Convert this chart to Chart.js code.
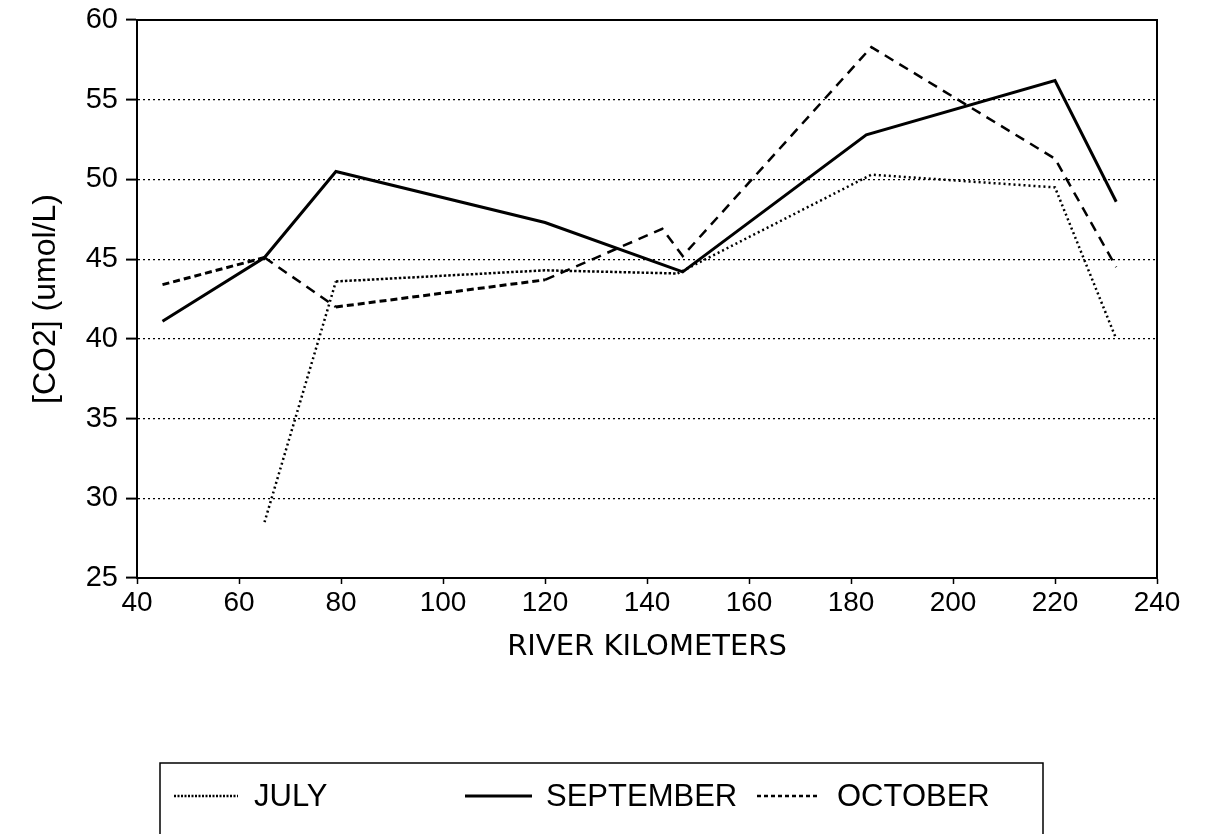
<!DOCTYPE html>
<html>
<head>
<meta charset="utf-8">
<script src="https://cdn.jsdelivr.net/npm/chart.js@4/dist/chart.umd.min.js"></script>
<style>
  html, body { margin: 0; padding: 0; background: #fff; }
  #wrap { width: 1213px; height: 834px; }
</style>
</head>
<body>
<div id="wrap"><canvas id="c" width="1213" height="834"></canvas></div>
<script>
// ---- data ----
const julyKm   = [65, 79, 120, 146, 184, 220, 232];
const julyCO2  = [28.5, 43.6, 44.3, 44.1, 50.3, 49.5, 40.0];
const sepKm    = [45, 65, 79, 120, 147, 183, 220, 232];
const sepCO2   = [41.1, 45.1, 50.5, 47.3, 44.2, 52.8, 56.2, 48.6];
const octKm    = [45, 65, 79, 120, 143, 147, 184, 220, 232];
const octCO2   = [43.4, 45.1, 42.0, 43.7, 46.9, 45.2, 58.3, 51.3, 44.5];
const xTicks   = [40, 60, 80, 100, 120, 140, 160, 180, 200, 220, 240];
const yTicks   = [25, 30, 35, 40, 45, 50, 55, 60];
const seriesNames = ['JULY', 'SEPTEMBER', 'OCTOBER'];

const pts = (xs, ys) => xs.map((x, i) => ({x: x, y: ys[i]}));
const FONT = "'Liberation Sans', Arial, sans-serif";

const frameAndLegend = {
  id: 'frameAndLegend',
  afterDraw(chart) {
    const ctx = chart.ctx;
    const a = chart.chartArea;
    ctx.save();
    ctx.strokeStyle = '#000';
    ctx.lineWidth = 2;
    ctx.setLineDash([]);
    ctx.beginPath();
    ctx.moveTo(a.left, a.top);
    ctx.lineTo(a.right, a.top);
    ctx.lineTo(a.right, a.bottom);
    ctx.stroke();
    // legend box
    ctx.lineWidth = 1.5;
    ctx.beginPath();
    ctx.moveTo(160, 840);
    ctx.lineTo(160, 763);
    ctx.lineTo(1043, 763);
    ctx.lineTo(1043, 840);
    ctx.stroke();
    // legend items
    const items = [
      {ds: 0, x1: 174, x2: 238, tx: 254},
      {ds: 1, x1: 465, x2: 532, tx: 546},
      {ds: 2, x1: 757, x2: 818, tx: 837}
    ];
    const ly = 796;
    items.forEach(it => {
      const d = chart.data.datasets[it.ds];
      ctx.strokeStyle = '#000';
      ctx.lineWidth = it.ds === 1 ? 3 : 2.5;
      ctx.setLineDash(it.ds === 0 ? [2, 1.5] : (it.ds === 2 ? [4, 3] : []));
      ctx.beginPath();
      ctx.moveTo(it.x1, ly);
      ctx.lineTo(it.x2, ly);
      ctx.stroke();
      ctx.setLineDash([]);
      ctx.fillStyle = '#000';
      ctx.font = '31px ' + FONT;
      ctx.textBaseline = 'middle';
      ctx.textAlign = 'left';
      ctx.fillText(d.label, it.tx, ly + 1);
    });
    ctx.restore();
  }
};

new Chart(document.getElementById('c'), {
  type: 'line',
  data: {
    datasets: [
      { label: seriesNames[0], data: pts(julyKm, julyCO2), borderColor: '#000', borderWidth: 2.5,
        borderDash: [2, 3], pointRadius: 0, tension: 0, fill: false,
        segment: { borderDash: c => (c.p0DataIndex >= 1 && c.p0DataIndex <= 2) ? [2.5, 2] : [2, 3] } },
      { label: seriesNames[1], data: pts(sepKm, sepCO2), borderColor: '#000', borderWidth: 3,
        pointRadius: 0, tension: 0, fill: false },
      { label: seriesNames[2], data: pts(octKm, octCO2), borderColor: '#000', borderWidth: 2.5,
        borderDash: [10, 7], pointRadius: 0, tension: 0, fill: false,
        segment: { borderDash: c => (c.p0DataIndex === 0 || c.p0DataIndex === 2) ? [7, 4] : [10, 7],
                   borderWidth: c => (c.p0DataIndex === 0 || c.p0DataIndex === 2) ? 3 : 2.5 } }
    ]
  },
  options: {
    responsive: false,
    animation: false,
    layout: { padding: { top: 20, right: 56, bottom: 146, left: 0 } },
    plugins: { legend: { display: false }, tooltip: { enabled: false } },
    scales: {
      x: {
        type: 'linear', min: 40, max: 240,
        afterBuildTicks: s => { s.ticks = xTicks.map(v => ({value: v})); },
        afterFit: s => { s.height = 110; },
        grid: { drawOnChartArea: false, drawTicks: true, tickLength: 6, tickColor: '#000', tickWidth: 1.5 },
        border: { display: true, color: '#000', width: 2 },
        ticks: { color: '#000', font: { family: FONT, size: 28 }, padding: 2, maxRotation: 0 },
        title: { display: true, text: 'RIVER KILOMETERS', color: '#000',
                 font: { family: "'DejaVu Sans', sans-serif", size: 29 }, padding: { top: 0, bottom: 23 } }
      },
      y: {
        type: 'linear', min: 25, max: 60,
        afterBuildTicks: s => { s.ticks = yTicks.map(v => ({value: v})); },
        afterFit: s => { s.width = 137; s.paddingTop = 0; s.paddingBottom = 0; },
        grid: { drawOnChartArea: true, color: '#000', lineWidth: 1.2, drawTicks: true, tickLength: 11,
                tickColor: '#000', tickWidth: 2, tickBorderDash: [] },
        border: { display: true, color: '#000', width: 2, dash: [2, 3] },
        ticks: { color: '#000', font: { family: FONT, size: 29, lineHeight: 1.0 }, padding: 8 },
        title: { display: true, text: '[CO2] (umol/L)', color: '#000',
                 font: { family: FONT, size: 32 }, padding: { top: 27, bottom: 0 } }
      }
    }
  },
  plugins: [frameAndLegend]
});
</script>
</body>
</html>
